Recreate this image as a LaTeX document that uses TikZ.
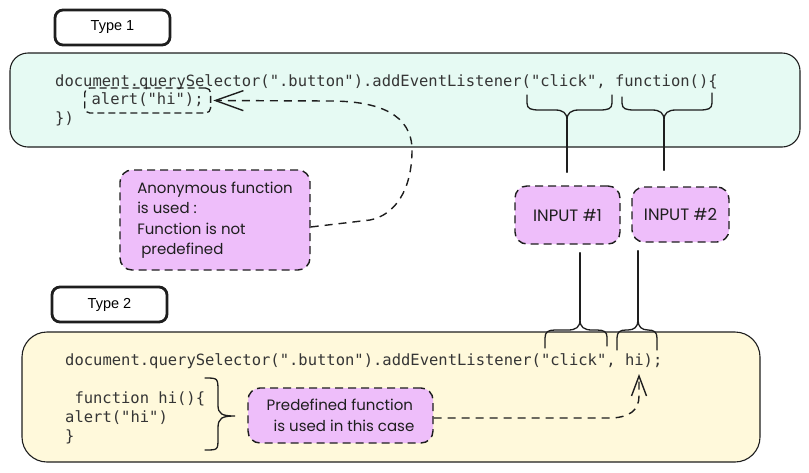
\documentclass[tikz,border=0pt]{standalone}
\usepackage{fontspec}
\usetikzlibrary{arrows.meta}
\newfontfamily\codefont{DejaVu Sans Mono}
\newfontfamily\labelfont{Liberation Sans}
\newfontfamily\handfont{Poppins}
\definecolor{mint}{HTML}{E6FAF3}
\definecolor{cream}{HTML}{FFF9DB}
\definecolor{lilac}{HTML}{EEBEFA}
\definecolor{ink}{HTML}{1E1E1E}
\begin{document}
\begin{tikzpicture}[x=1pt,y=-1pt,
  typebox/.style={draw=ink, line width=2.8pt, rounded corners=8pt, fill=white,
    minimum width=115pt, minimum height=35pt, inner sep=0pt,
    font=\labelfont\fontsize{14.5}{16}\selectfont},
  panel/.style={draw=ink, line width=1.1pt, inner sep=0pt},
  code/.style={font=\codefont\fontsize{15.5}{18}\selectfont, inner sep=0pt,
    anchor=base west, text=ink!90},
  note/.style={draw=ink, dash pattern=on 8pt off 5pt, line width=1.4pt, fill=lilac,
    rounded corners=12pt, inner sep=0pt, text=ink,
    font=\handfont\fontsize{15}{20.5}\selectfont, align=left},
  inputnote/.style={note, font=\handfont\fontsize{16.5}{20}\selectfont},
  brace/.style={draw=ink, line width=1.3pt, line cap=round},
  link/.style={draw=ink, line width=1.4pt, dash pattern=on 8pt off 6pt}
]
\useasboundingbox (0,0) rectangle (809,472);

% panels
\node[panel, fill=mint, rounded corners=18pt, minimum width=790pt, minimum height=94pt]
  (top) at (405,100) {};
\node[panel, fill=cream, rounded corners=25pt, minimum width=738pt, minimum height=130pt]
  (bottom) at (391,397) {};

% type labels
\node[typebox] (t1) at (112.5,27.5) {Type 1};
\node[typebox] (t2) at (109.5,304.5) {Type 2};

% top code
\node[code] (c1) at (55,86) {document.querySelector(".button").addEventListener("click", function()\{};
\node[code, draw=ink, dash pattern=on 7pt off 4pt, line width=1.3pt, rounded corners=5pt,
  inner xsep=7pt, text height=16pt, text depth=9pt] (alert) at (84,104) {alert("hi");};
\node[code] (c3) at (55,123) {\})};

% bottom code
\node[code] (d1) at (65,365) {document.querySelector(".button").addEventListener("click", hi);};
\node[code] (d2) at (74.3,403) {function hi()\{};
\node[code] (d3) at (65,422) {alert("hi")};
\node[code] (d4) at (65,441) {\}};
\coordinate (hitarget) at (639,374);

% notes
\node[note, minimum width=190pt, minimum height=100pt] (anon) at (215,220)
  {Anonymous function\\is used :\\Function is not\\\hspace*{4pt}predefined};
\node[inputnote, minimum width=97pt, minimum height=55pt] (in2) at (680.5,214.5) {INPUT \#2};
\node[inputnote, minimum width=105pt, minimum height=58pt] (in1) at (567.5,215) {INPUT \#1};
\node[note, minimum width=185pt, minimum height=55pt] (pre) at (340.5,415.5)
  {Predefined function\\\hspace*{7pt}is used in this case};

% top braces
\coordinate (b1) at (567,120);
\coordinate (b2) at (664,120);
\draw[brace] (527,95) -- (527,103) .. controls (527,109) and (531,110) .. (540,110)
  -- (555,110) .. controls (563,110) and (567,113) .. (b1);
\draw[brace] (612,95) -- (612,103) .. controls (612,109) and (608,110) .. (599,110)
  -- (579,110) .. controls (571,110) and (567,113) .. (b1);
\draw[brace] (622,97) -- (622,103) .. controls (622,109) and (626,110) .. (635,110)
  -- (652,110) .. controls (660,110) and (664,113) .. (b2);
\draw[brace] (712,93) -- (712,103) .. controls (712,109) and (708,110) .. (699,110)
  -- (676,110) .. controls (668,110) and (664,113) .. (b2);
\draw[brace, shorten >=13pt] (b1) -- (b1 |- in1.north);
\draw[brace, shorten >=16pt] (b2) -- (b2 |- in2.north);

% bottom braces
\coordinate (b3) at (580,320);
\coordinate (b4) at (638,320);
\draw[brace] (545,348) -- (545,338) .. controls (545,332) and (548,330) .. (555,330)
  -- (568,330) .. controls (576,330) and (580,327) .. (b3);
\draw[brace] (607,346) -- (607,337) .. controls (607,332) and (604,330) .. (597,330)
  -- (592,330) .. controls (584,330) and (580,327) .. (b3);
\draw[brace] (617,350) -- (617,338) .. controls (617,332) and (620,330) .. (626,330)
  -- (628,330) .. controls (634,330) and (638,327) .. (b4);
\draw[brace] (657,350) -- (657,338) .. controls (657,332) and (654,330) .. (648,330)
  -- (648,330) .. controls (642,330) and (638,327) .. (b4);
\draw[brace, shorten >=8pt] (b3) -- (b3 |- in1.south);
\draw[brace, shorten >=8pt] (b4) -- (b4 |- in2.south);

% big brace beside function hi
\draw[brace] (205,378) .. controls (218,378) .. (218,392) -- (218,405)
  .. controls (218,414) and (222,416) .. (235,416)
  .. controls (222,416) and (218,418) .. (218,428) -- (218,438)
  .. controls (218,450) .. (205,450);

% connectors
\draw[link, -{Straight Barb[length=28pt,width=20pt,line width=1.4pt]}]
  ([yshift=-7pt]anon.east) -- (370,220) .. controls (395,215) and (412,190) .. (412,150)
  .. controls (412,115) and (380,101) .. (330,101) -- ([xshift=2pt]alert.east);
\draw[link, -{Straight Barb[length=20pt,width=15pt,line width=1.4pt]}]
  ([yshift=-2.5pt]pre.east) -- (612,418) .. controls (630,417) and (639,410) .. (639,396)
  -- (hitarget);
\end{tikzpicture}
\end{document}
